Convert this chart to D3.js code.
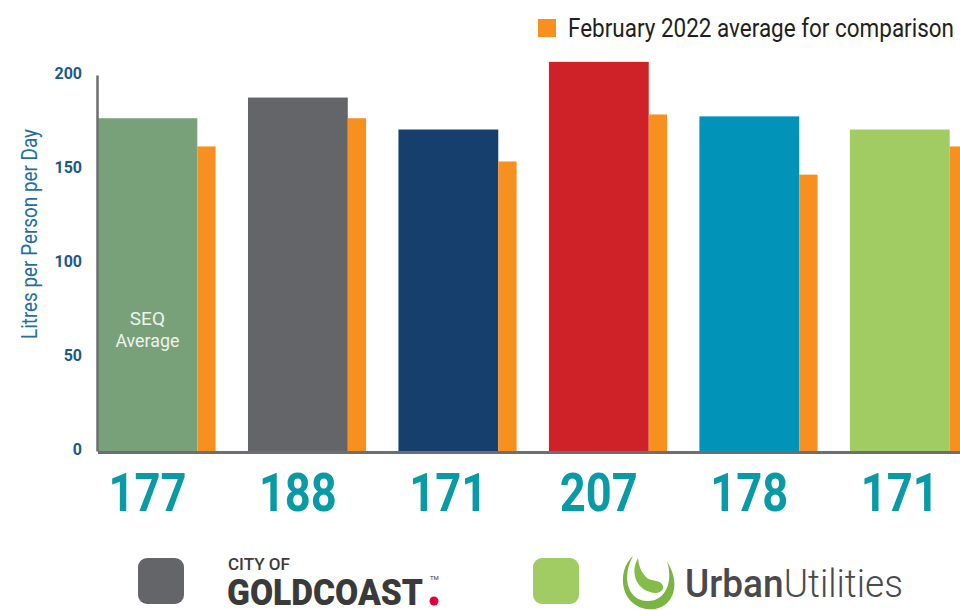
<!DOCTYPE html>
<html>
<head>
<meta charset="utf-8">
<script src="https://cdn.jsdelivr.net/npm/d3@7"></script>
<style>
    body { margin: 0; background: #fff; }
    svg { display: block; font-family: Roboto, "Noto Sans", sans-serif; }
</style>
</head>
<body>
<div id="chart"></div>
<script>
// Daily residential water use per person, by provider
const categories = ['SEQ Average', 'City of Gold Coast', 'Logan Water', 'Redland City', 'Unitywater', 'Urban Utilities'];
const currentValues = [177, 188, 171, 207, 178, 171];
const feb2022Values = [162, 177, 154, 179, 147, 162];
const barColors = ['#79a179', '#646569', '#173f6d', '#cf2228', '#0293b8', '#a1cb63'];
const yTicks = [0, 50, 100, 150, 200];

const width = 960;
const height = 610;

const svg = d3.select('#chart')
    .append('svg')
    .attr('width', width)
    .attr('height', height);

// Scales
const x = d3.scaleBand()
    .domain(categories)
    .range([97.5, 968])
    .paddingInner(0.215)
    .paddingOuter(0);

const mainW = x.bandwidth() * 0.845;
const compW = x.bandwidth() - mainW;

const y = d3.scaleLinear()
    .domain([0, 200])
    .range([451, 75]);

// Main bars
svg.append('g')
    .selectAll('rect')
    .data(categories)
    .enter()
    .append('rect')
    .attr('x', d => x(d))
    .attr('y', (d, i) => y(currentValues[i]))
    .attr('width', mainW)
    .attr('height', (d, i) => y(0) - y(currentValues[i]))
    .attr('fill', (d, i) => barColors[i]);

// February 2022 comparison bars
svg.append('g')
    .selectAll('rect')
    .data(categories)
    .enter()
    .append('rect')
    .attr('x', d => x(d) + mainW)
    .attr('y', (d, i) => y(feb2022Values[i]))
    .attr('width', compW)
    .attr('height', (d, i) => y(0) - y(feb2022Values[i]))
    .attr('fill', '#f7901e');

// SEQ label inside first bar
const seqX = x(categories[0]) + mainW / 2;
svg.append('text')
    .attr('x', seqX).attr('y', 325)
    .attr('text-anchor', 'middle')
    .attr('fill', '#eef3ec')
    .style('font-size', '19px')
    .text('SEQ');
svg.append('text')
    .attr('x', seqX).attr('y', 347)
    .attr('text-anchor', 'middle')
    .attr('fill', '#eef3ec')
    .attr('textLength', 64)
    .attr('lengthAdjust', 'spacingAndGlyphs')
    .style('font-size', '19px')
    .text('Average');

// Y axis
const yAxis = svg.append('g')
    .attr('transform', 'translate(97,0)')
    .call(d3.axisLeft(y).tickValues(yTicks).tickSize(0).tickPadding(15));
yAxis.select('.domain')
    .attr('stroke', '#6d6e71')
    .attr('stroke-width', 2.5);
yAxis.selectAll('text')
    .attr('fill', '#1b5a86')
    .attr('transform', 'translate(0,-2)')
    .style('font-family', 'Roboto, sans-serif')
    .style('font-size', '16px')
    .style('font-weight', 'bold');

// X axis (baseline only)
const xAxis = svg.append('g')
    .attr('transform', 'translate(0,452)')
    .call(d3.axisBottom(x).tickSize(0).tickFormat(''));
xAxis.select('.domain')
    .attr('stroke', '#6d6e71')
    .attr('stroke-width', 3);

// Y axis label
svg.append('text')
    .attr('transform', 'translate(37,234) rotate(-90)')
    .attr('text-anchor', 'middle')
    .attr('fill', '#1f6fa0')
    .attr('textLength', 210)
    .attr('lengthAdjust', 'spacingAndGlyphs')
    .style('font-size', '22px')
    .text('Litres per Person per Day');

// Value labels under the bars
svg.append('g')
    .selectAll('text')
    .data(categories)
    .enter()
    .append('text')
    .attr('x', d => x(d) + mainW / 2)
    .attr('y', 511)
    .attr('text-anchor', 'middle')
    .attr('fill', '#0a9aa5')
    .attr('textLength', 78)
    .attr('lengthAdjust', 'spacingAndGlyphs')
    .style('font-size', '53px')
    .style('font-weight', 'bold')
    .text((d, i) => currentValues[i]);

// Legend
svg.append('rect')
    .attr('x', 538).attr('y', 19)
    .attr('width', 18).attr('height', 18)
    .attr('fill', '#f7901e');
svg.append('text')
    .attr('x', 568).attr('y', 37)
    .attr('fill', '#231f20')
    .attr('textLength', 386)
    .attr('lengthAdjust', 'spacingAndGlyphs')
    .style('font-size', '25px')
    .text('February 2022 average for comparison');

// Provider logos at the bottom
const logos = svg.append('g');

logos.append('rect')
    .attr('x', 138).attr('y', 558)
    .attr('width', 46).attr('height', 46)
    .attr('rx', 9)
    .attr('fill', barColors[1]);
logos.append('text')
    .attr('x', 228).attr('y', 570)
    .attr('fill', '#3c3c3c')
    .attr('textLength', 62)
    .attr('lengthAdjust', 'spacingAndGlyphs')
    .style('font-size', '17px')
    .style('font-weight', 500)
    .text('CITY OF');
logos.append('text')
    .attr('x', 227).attr('y', 605)
    .attr('fill', '#3a3a3a')
    .attr('textLength', 196)
    .attr('lengthAdjust', 'spacingAndGlyphs')
    .style('font-size', '37px')
    .style('font-weight', 900)
    .text('GOLDCOAST');
logos.append('circle')
    .attr('cx', 434).attr('cy', 601)
    .attr('r', 4.5)
    .attr('fill', '#e4003b');
logos.append('text')
    .attr('x', 430).attr('y', 580)
    .attr('fill', '#3a3a3a')
    .style('font-size', '6px')
    .text('TM');

logos.append('rect')
    .attr('x', 533).attr('y', 558)
    .attr('width', 46).attr('height', 46)
    .attr('rx', 9)
    .attr('fill', barColors[5]);
// Urban Utilities swirl mark
logos.append('path')
    .attr('d', 'M633,556 C617,570 619,604 646,609 C668,612 681,592 671,569 L667,561 C674,584 664,602 647,601 C628,600 621,578 633,556 Z')
    .attr('fill', '#7ab544');
logos.append('path')
    .attr('d', 'M638,558 C630,572 636,588 650,592 C659,595 666,590 662,584 C658,579 650,582 646,577 C641,572 639,566 638,558 Z')
    .attr('fill', '#84bc4a');
const uu = logos.append('text')
    .attr('x', 685).attr('y', 597)
    .attr('fill', '#4a4a4c')
    .attr('textLength', 218)
    .attr('lengthAdjust', 'spacingAndGlyphs')
    .style('font-size', '38px');
uu.append('tspan').style('font-weight', 500).text('Urban');
uu.append('tspan').style('font-weight', 300).text('Utilities');
</script>
</body>
</html>
